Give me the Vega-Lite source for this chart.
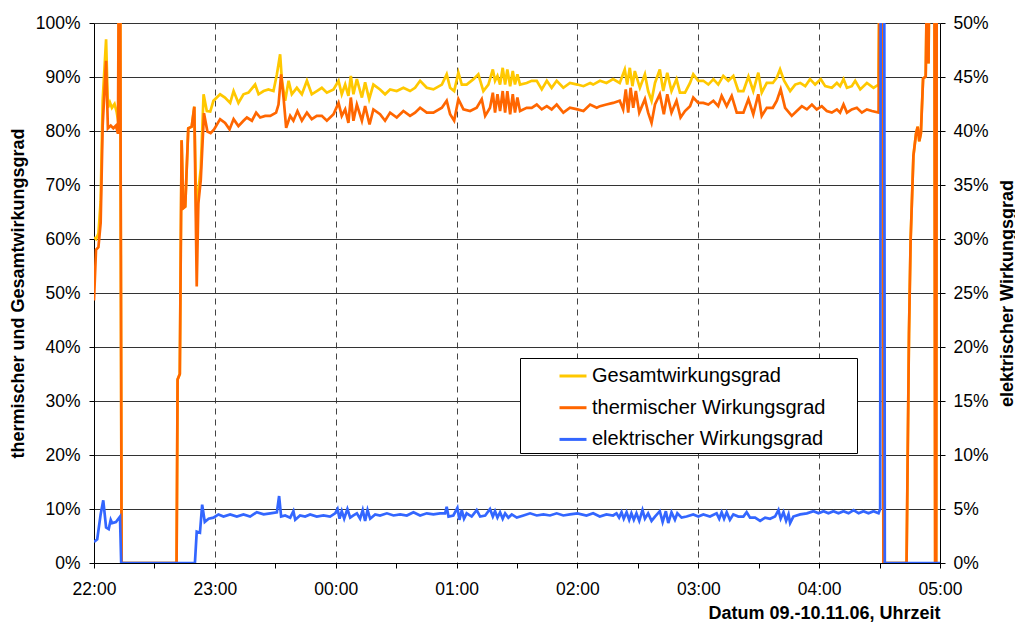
{
  "$schema": "https://vega.github.io/schema/vega-lite/v6.json",
  "width": 846,
  "height": 540,
  "autosize": {"type": "none"},
  "padding": {"left": 94, "top": 23, "right": 75, "bottom": 61},
  "background": "white",
  "config": {
    "font": "Liberation Sans",
    "view": {"stroke": null},
    "axis": {
      "domainColor": "black",
      "tickColor": "black",
      "labelColor": "black",
      "titleColor": "black",
      "labelFont": "Liberation Sans",
      "titleFont": "Liberation Sans",
      "labelFontSize": 17.5,
      "titleFontSize": 18,
      "titleFontWeight": "bold",
      "tickSize": 5
    },
    "legend": {
      "orient": "none",
      "legendX": 426,
      "legendY": 335,
      "direction": "vertical",
      "strokeColor": "black",
      "fillColor": "white",
      "padding": 3,
      "symbolType": "stroke",
      "symbolSize": 729,
      "symbolStrokeWidth": 3,
      "symbolOffset": 35,
      "labelOffset": 4,
      "labelFontSize": 20,
      "labelFont": "Liberation Sans",
      "labelColor": "black",
      "labelLimit": 0,
      "rowPadding": 6.7
    }
  },
  "datasets": {
    "gesamt": [
      {"min": 0, "v": 60.3}, {"min": 1, "v": 60}, {"min": 2.2, "v": 61}, {"min": 3.3, "v": 67}, {"min": 4.3, "v": 85.6},
      {"min": 6, "v": 97}, {"min": 6.9, "v": 84.3}, {"min": 7.9, "v": 85.3}, {"min": 8.9, "v": 84.3}, {"min": 10.2, "v": 85},
      {"min": 11.2, "v": 83.6}, {"min": 12.2, "v": 81.5}, {"min": 12.5, "v": 125}, {"min": 12.9, "v": 125}, {"min": 13.7, "v": 0},
      {"min": 41, "v": 0}, {"min": 41.5, "v": 34}, {"min": 42.6, "v": 35}, {"min": 43.5, "v": 78.3}, {"min": 44.3, "v": 65.7},
      {"min": 45.3, "v": 66}, {"min": 46.8, "v": 80.5}, {"min": 48.5, "v": 80.8}, {"min": 49.8, "v": 84.5}, {"min": 51, "v": 60},
      {"min": 51.8, "v": 69}, {"min": 53, "v": 73}, {"min": 54.4, "v": 86.8}, {"min": 56, "v": 83.7}, {"min": 57.7, "v": 83.6},
      {"min": 59.3, "v": 85.6}, {"min": 62.6, "v": 86.8}, {"min": 65, "v": 86.2}, {"min": 67.6, "v": 85.2}, {"min": 69.3, "v": 87.4},
      {"min": 71.7, "v": 85.2}, {"min": 74.2, "v": 86.8}, {"min": 76.7, "v": 87.1}, {"min": 80, "v": 88.6}, {"min": 81.7, "v": 86.8},
      {"min": 84.2, "v": 87.4}, {"min": 86.6, "v": 87.7}, {"min": 89.1, "v": 87.4}, {"min": 90.8, "v": 90.5}, {"min": 92.4, "v": 94.2},
      {"min": 93.3, "v": 89.3}, {"min": 94.9, "v": 85.6}, {"min": 96.6, "v": 89.3}, {"min": 98.2, "v": 86.8}, {"min": 100.7, "v": 88},
      {"min": 103.2, "v": 86.8}, {"min": 105.7, "v": 89.3}, {"min": 108.1, "v": 86.8}, {"min": 110.6, "v": 87.4}, {"min": 113.1, "v": 88},
      {"min": 115.6, "v": 87.1}, {"min": 118.9, "v": 87.7}, {"min": 121.4, "v": 89.3}, {"min": 123, "v": 86.8}, {"min": 124.7, "v": 88.6},
      {"min": 126.3, "v": 86.5}, {"min": 127.5, "v": 90.2}, {"min": 128.8, "v": 86.8}, {"min": 130.5, "v": 89.6}, {"min": 133, "v": 86.2},
      {"min": 134.6, "v": 89}, {"min": 136.6, "v": 85.9}, {"min": 138.7, "v": 88.6}, {"min": 142, "v": 87.7}, {"min": 144.5, "v": 86.8},
      {"min": 147, "v": 87.7}, {"min": 150.3, "v": 87.4}, {"min": 153.6, "v": 88}, {"min": 156.9, "v": 87.4}, {"min": 159.4, "v": 88},
      {"min": 161.9, "v": 89.3}, {"min": 165.2, "v": 88}, {"min": 168.5, "v": 87.7}, {"min": 172.7, "v": 88.6}, {"min": 175.1, "v": 90.5},
      {"min": 176.8, "v": 88}, {"min": 178.8, "v": 87.4}, {"min": 180.9, "v": 90.8}, {"min": 182.6, "v": 88.6}, {"min": 185, "v": 88.6},
      {"min": 188.4, "v": 89.6}, {"min": 190.8, "v": 90.5}, {"min": 193.3, "v": 87.4}, {"min": 195.8, "v": 88.6}, {"min": 198, "v": 91.4},
      {"min": 199.1, "v": 89.3}, {"min": 200.3, "v": 90.2}, {"min": 201.6, "v": 88.6}, {"min": 202.9, "v": 91.7}, {"min": 204.1, "v": 88.6},
      {"min": 205.2, "v": 91.4}, {"min": 206.6, "v": 88.3}, {"min": 207.9, "v": 91.1}, {"min": 209, "v": 88.6}, {"min": 210.2, "v": 90.5},
      {"min": 211.5, "v": 88.6}, {"min": 214.8, "v": 88.9}, {"min": 217.3, "v": 89.3}, {"min": 219.8, "v": 89.3}, {"min": 222.3, "v": 87.7},
      {"min": 224.8, "v": 89.3}, {"min": 227.2, "v": 88}, {"min": 229.7, "v": 89.3}, {"min": 233, "v": 88}, {"min": 236.3, "v": 88.9},
      {"min": 240, "v": 88.6}, {"min": 243, "v": 88.3}, {"min": 246.3, "v": 88.9}, {"min": 247.8, "v": 88.6}, {"min": 251.2, "v": 89.3},
      {"min": 254.4, "v": 88.9}, {"min": 257.7, "v": 89.6}, {"min": 261, "v": 88.9}, {"min": 263.5, "v": 91.4}, {"min": 264.7, "v": 88.6},
      {"min": 266, "v": 91.7}, {"min": 267.3, "v": 88.3}, {"min": 268.5, "v": 91.1}, {"min": 271, "v": 88}, {"min": 273.5, "v": 90.5},
      {"min": 275.1, "v": 87.4}, {"min": 276.8, "v": 85.6}, {"min": 278.5, "v": 88.9}, {"min": 280.9, "v": 91.4}, {"min": 282.6, "v": 87.4},
      {"min": 284.6, "v": 90.8}, {"min": 286.7, "v": 87.4}, {"min": 289.2, "v": 89.6}, {"min": 290.9, "v": 87.1}, {"min": 293.4, "v": 87.1},
      {"min": 295.9, "v": 88.9}, {"min": 297.5, "v": 90.5}, {"min": 300, "v": 89.3}, {"min": 302.5, "v": 89.3}, {"min": 305, "v": 88.6},
      {"min": 307.5, "v": 89.6}, {"min": 309.9, "v": 88.6}, {"min": 312.4, "v": 90.2}, {"min": 314.9, "v": 89.3}, {"min": 317.4, "v": 90.2},
      {"min": 319.9, "v": 87.4}, {"min": 322.4, "v": 87.4}, {"min": 324.9, "v": 90.1}, {"min": 327.3, "v": 87.4}, {"min": 329.8, "v": 90.8},
      {"min": 331.5, "v": 87.1}, {"min": 334, "v": 88.9}, {"min": 337, "v": 88.9}, {"min": 339, "v": 89.9}, {"min": 340.6, "v": 91.4},
      {"min": 342.6, "v": 89.3}, {"min": 345.6, "v": 87.4}, {"min": 348.1, "v": 88.6}, {"min": 350.6, "v": 88.9}, {"min": 353.1, "v": 88.3},
      {"min": 355.5, "v": 89.6}, {"min": 358, "v": 88.6}, {"min": 360.8, "v": 89.6}, {"min": 363, "v": 88.3}, {"min": 366.3, "v": 88},
      {"min": 368.8, "v": 88.9}, {"min": 370.4, "v": 88.3}, {"min": 372.1, "v": 89.6}, {"min": 373.8, "v": 88}, {"min": 376.2, "v": 88.3},
      {"min": 377.9, "v": 89.3}, {"min": 380.4, "v": 87.7}, {"min": 383.7, "v": 88.9}, {"min": 387, "v": 88}, {"min": 389.5, "v": 88.6},
      {"min": 390.2, "v": 125}, {"min": 391.4, "v": 125}, {"min": 391.9, "v": 0}, {"min": 403.4, "v": 0}, {"min": 404.6, "v": 42.5},
      {"min": 405.4, "v": 59.6}, {"min": 406.8, "v": 75.4}, {"min": 408.1, "v": 79.5}, {"min": 408.9, "v": 80.8}, {"min": 409.7, "v": 78.1},
      {"min": 410.5, "v": 79.5}, {"min": 411.6, "v": 89.7}, {"min": 412.9, "v": 90.1}, {"min": 413.6, "v": 110}, {"min": 414.3, "v": 92.5},
      {"min": 415, "v": 125}, {"min": 417.2, "v": 125}, {"min": 417.6, "v": 0}, {"min": 418.1, "v": 0}, {"min": 418.4, "v": 125},
      {"min": 420, "v": 125}
    ],
    "therm": [
      {"min": 0, "v": 48.6}, {"min": 1, "v": 58}, {"min": 2.2, "v": 58.5}, {"min": 3.3, "v": 63}, {"min": 4.3, "v": 81},
      {"min": 6, "v": 93}, {"min": 6.9, "v": 80.5}, {"min": 8.3, "v": 81}, {"min": 9.6, "v": 80.5}, {"min": 10.9, "v": 81},
      {"min": 11.9, "v": 79.5}, {"min": 12.5, "v": 125}, {"min": 12.9, "v": 125}, {"min": 13.7, "v": 0}, {"min": 41, "v": 0},
      {"min": 41.5, "v": 34}, {"min": 42.6, "v": 35}, {"min": 43.5, "v": 78.3}, {"min": 44.3, "v": 65.7}, {"min": 45.3, "v": 66},
      {"min": 46.8, "v": 80.5}, {"min": 48.5, "v": 80.8}, {"min": 49.8, "v": 84.5}, {"min": 51, "v": 51.2}, {"min": 51.8, "v": 66.6},
      {"min": 53, "v": 70.9}, {"min": 54.6, "v": 83.3}, {"min": 56.3, "v": 79.9}, {"min": 57.9, "v": 79.6}, {"min": 59.6, "v": 80.3},
      {"min": 62.6, "v": 82.2}, {"min": 65.1, "v": 81.5}, {"min": 67.3, "v": 80.3}, {"min": 69.3, "v": 82.2}, {"min": 71.7, "v": 80.9},
      {"min": 74.2, "v": 81.9}, {"min": 75.9, "v": 82.5}, {"min": 78.4, "v": 81.9}, {"min": 80.5, "v": 83.4}, {"min": 82.5, "v": 82.5},
      {"min": 85, "v": 82.8}, {"min": 87.5, "v": 82.8}, {"min": 90.4, "v": 83.4}, {"min": 91.6, "v": 84.9}, {"min": 92.9, "v": 90.5},
      {"min": 94.1, "v": 86.2}, {"min": 95.4, "v": 80.6}, {"min": 97.4, "v": 82.8}, {"min": 99, "v": 81.9}, {"min": 101, "v": 83.7},
      {"min": 103.2, "v": 81.9}, {"min": 105.7, "v": 83.4}, {"min": 108.1, "v": 82.2}, {"min": 110.6, "v": 82.8}, {"min": 113.1, "v": 82.8},
      {"min": 115.6, "v": 81.9}, {"min": 118.9, "v": 83.1}, {"min": 121.4, "v": 85.2}, {"min": 123, "v": 82.8}, {"min": 124.7, "v": 84},
      {"min": 126.3, "v": 81.5}, {"min": 127.5, "v": 86.2}, {"min": 128.8, "v": 81.9}, {"min": 130.5, "v": 84.9}, {"min": 133, "v": 81.9},
      {"min": 134.6, "v": 84.6}, {"min": 136.8, "v": 81.2}, {"min": 138.7, "v": 84}, {"min": 142, "v": 83.1}, {"min": 144.5, "v": 81.9},
      {"min": 147, "v": 83.4}, {"min": 150.3, "v": 82.5}, {"min": 153.6, "v": 83.7}, {"min": 156.9, "v": 82.8}, {"min": 159.4, "v": 83.4},
      {"min": 161.9, "v": 84.3}, {"min": 165.2, "v": 83.4}, {"min": 168.5, "v": 83.4}, {"min": 172.7, "v": 84.3}, {"min": 175.1, "v": 85.6},
      {"min": 176.8, "v": 83.1}, {"min": 178.8, "v": 81.9}, {"min": 180.9, "v": 85.9}, {"min": 183.4, "v": 84}, {"min": 186.7, "v": 83.7},
      {"min": 190, "v": 84.3}, {"min": 192.5, "v": 85.9}, {"min": 194.2, "v": 82.8}, {"min": 196.6, "v": 84.3}, {"min": 198, "v": 87.1},
      {"min": 199.1, "v": 83.4}, {"min": 200.3, "v": 86.8}, {"min": 201.6, "v": 83.7}, {"min": 202.9, "v": 87.4}, {"min": 204.1, "v": 83.4},
      {"min": 205.2, "v": 87.4}, {"min": 206.6, "v": 83.1}, {"min": 207.9, "v": 86.8}, {"min": 209, "v": 83.4}, {"min": 210.2, "v": 86.2},
      {"min": 211.5, "v": 83.7}, {"min": 214.8, "v": 84.3}, {"min": 217.3, "v": 84.3}, {"min": 219.8, "v": 84.9}, {"min": 222.3, "v": 84},
      {"min": 224.8, "v": 84.6}, {"min": 227.2, "v": 84}, {"min": 229.7, "v": 84.9}, {"min": 233, "v": 83.4}, {"min": 236.3, "v": 84.3},
      {"min": 240, "v": 84}, {"min": 243, "v": 83.7}, {"min": 246.3, "v": 84.9}, {"min": 249.6, "v": 84.3}, {"min": 251.2, "v": 84.6},
      {"min": 254.4, "v": 84.9}, {"min": 257.7, "v": 85.2}, {"min": 261, "v": 85.6}, {"min": 262.7, "v": 84}, {"min": 264, "v": 87.7},
      {"min": 265.2, "v": 83.4}, {"min": 266.4, "v": 88}, {"min": 267.7, "v": 84.3}, {"min": 269, "v": 87.4}, {"min": 270.7, "v": 83.4},
      {"min": 273.5, "v": 85.9}, {"min": 275.1, "v": 83.4}, {"min": 276.8, "v": 81.5}, {"min": 278.5, "v": 84.9}, {"min": 280.9, "v": 86.8},
      {"min": 282.9, "v": 83.1}, {"min": 284.6, "v": 86.8}, {"min": 286.7, "v": 83.4}, {"min": 289.2, "v": 85.6}, {"min": 291.2, "v": 82.5},
      {"min": 293.4, "v": 83.7}, {"min": 295.9, "v": 84.6}, {"min": 297.5, "v": 86.2}, {"min": 300, "v": 85.2}, {"min": 302.5, "v": 85.2},
      {"min": 305, "v": 84.9}, {"min": 307.5, "v": 85.6}, {"min": 309.9, "v": 84.6}, {"min": 311.6, "v": 86.5}, {"min": 314.1, "v": 84.6},
      {"min": 316.6, "v": 86.5}, {"min": 319.1, "v": 83.4}, {"min": 322.4, "v": 83.4}, {"min": 324.9, "v": 85.9}, {"min": 327.3, "v": 83.1},
      {"min": 329.8, "v": 86.8}, {"min": 331.5, "v": 82.8}, {"min": 334, "v": 84.3}, {"min": 337, "v": 84.3}, {"min": 339, "v": 85.6},
      {"min": 340.9, "v": 87.7}, {"min": 343.1, "v": 84.3}, {"min": 346.4, "v": 82.8}, {"min": 348.9, "v": 83.7}, {"min": 351.4, "v": 84.6},
      {"min": 353.9, "v": 84}, {"min": 356.4, "v": 84.9}, {"min": 358.8, "v": 84}, {"min": 361.3, "v": 84.6}, {"min": 363.8, "v": 83.7},
      {"min": 366.3, "v": 83.4}, {"min": 368.8, "v": 84}, {"min": 370.4, "v": 83.4}, {"min": 372.1, "v": 84.9}, {"min": 373.8, "v": 83.4},
      {"min": 376.2, "v": 84}, {"min": 378.7, "v": 84.3}, {"min": 381.2, "v": 83.4}, {"min": 383.7, "v": 84}, {"min": 386.2, "v": 83.7},
      {"min": 389.5, "v": 83.4}, {"min": 390.2, "v": 125}, {"min": 391.4, "v": 125}, {"min": 391.9, "v": 0}, {"min": 403.4, "v": 0},
      {"min": 404.6, "v": 42.5}, {"min": 405.4, "v": 59.6}, {"min": 406.8, "v": 75.4}, {"min": 408.1, "v": 79.5}, {"min": 408.9, "v": 80.8},
      {"min": 409.7, "v": 78.1}, {"min": 410.5, "v": 79.5}, {"min": 411.6, "v": 89.7}, {"min": 412.9, "v": 90.1}, {"min": 413.6, "v": 110},
      {"min": 414.3, "v": 92.5}, {"min": 415, "v": 125}, {"min": 417.2, "v": 125}, {"min": 417.6, "v": 0}, {"min": 418.1, "v": 0},
      {"min": 418.4, "v": 125}, {"min": 420, "v": 125}
    ],
    "elek": [
      {"min": 0, "v": 1.95}, {"min": 1.6, "v": 2.2}, {"min": 3.3, "v": 4.5}, {"min": 4.6, "v": 5.8}, {"min": 6, "v": 3.3},
      {"min": 7.3, "v": 3.15}, {"min": 8.3, "v": 4}, {"min": 9, "v": 3.7}, {"min": 10.9, "v": 3.8}, {"min": 12.9, "v": 4.3},
      {"min": 13.5, "v": 0}, {"min": 50.1, "v": 0}, {"min": 51, "v": 2.9}, {"min": 52.6, "v": 2.8}, {"min": 53.7, "v": 5.4},
      {"min": 55, "v": 3.8}, {"min": 56.9, "v": 4.1}, {"min": 59.3, "v": 4.2}, {"min": 61.8, "v": 4.5}, {"min": 64.3, "v": 4.3},
      {"min": 67.6, "v": 4.5}, {"min": 70.9, "v": 4.3}, {"min": 74.2, "v": 4.5}, {"min": 77.5, "v": 4.3}, {"min": 80.8, "v": 4.7},
      {"min": 84.2, "v": 4.5}, {"min": 87.5, "v": 4.6}, {"min": 90.8, "v": 4.7}, {"min": 91.9, "v": 6.2}, {"min": 92.9, "v": 4.3},
      {"min": 94.9, "v": 4.4}, {"min": 97.4, "v": 4.2}, {"min": 99, "v": 4.8}, {"min": 99.9, "v": 4}, {"min": 102.3, "v": 4.4},
      {"min": 104.8, "v": 4.3}, {"min": 107.3, "v": 4.5}, {"min": 110.6, "v": 4.3}, {"min": 113.9, "v": 4.4}, {"min": 117.2, "v": 4.3},
      {"min": 119.7, "v": 4.6}, {"min": 120.9, "v": 5}, {"min": 121.9, "v": 4.1}, {"min": 123, "v": 4.8}, {"min": 124.2, "v": 4.1},
      {"min": 125.8, "v": 5}, {"min": 127.2, "v": 4.2}, {"min": 128.8, "v": 4.4}, {"min": 130.5, "v": 4.6}, {"min": 132.1, "v": 4.1},
      {"min": 133.4, "v": 4.9}, {"min": 134.6, "v": 3.9}, {"min": 135.8, "v": 4.9}, {"min": 137.1, "v": 4.1}, {"min": 139.6, "v": 4.5},
      {"min": 142, "v": 4.4}, {"min": 145.4, "v": 4.6}, {"min": 148.7, "v": 4.4}, {"min": 152, "v": 4.5}, {"min": 155.3, "v": 4.4},
      {"min": 158.6, "v": 4.7}, {"min": 161.9, "v": 4.4}, {"min": 165.2, "v": 4.6}, {"min": 168.5, "v": 4.5}, {"min": 171.8, "v": 4.6},
      {"min": 174.3, "v": 4.6}, {"min": 175.1, "v": 5.2}, {"min": 176, "v": 4.3}, {"min": 178.4, "v": 4.4}, {"min": 180.4, "v": 5.1},
      {"min": 181.4, "v": 4}, {"min": 182.6, "v": 4.9}, {"min": 183.7, "v": 4.1}, {"min": 185, "v": 4.6}, {"min": 187.5, "v": 4.3},
      {"min": 190, "v": 4.9}, {"min": 191.7, "v": 4.3}, {"min": 194.2, "v": 4.4}, {"min": 196.6, "v": 5}, {"min": 198, "v": 4.3},
      {"min": 199.1, "v": 4.8}, {"min": 200.3, "v": 4.2}, {"min": 201.6, "v": 4.7}, {"min": 202.9, "v": 4.1}, {"min": 204.1, "v": 4.6},
      {"min": 205.7, "v": 4.2}, {"min": 207.4, "v": 4.5}, {"min": 209.9, "v": 4.2}, {"min": 213.2, "v": 4.4}, {"min": 216.5, "v": 4.6},
      {"min": 219.8, "v": 4.4}, {"min": 223.1, "v": 4.5}, {"min": 226.4, "v": 4.4}, {"min": 229.7, "v": 4.6}, {"min": 233, "v": 4.4},
      {"min": 236.3, "v": 4.5}, {"min": 240, "v": 4.6}, {"min": 244.5, "v": 4.4}, {"min": 247.8, "v": 4.6}, {"min": 251.1, "v": 4.3},
      {"min": 254.4, "v": 4.5}, {"min": 257.7, "v": 4.4}, {"min": 259.4, "v": 4.6}, {"min": 260.7, "v": 4.2}, {"min": 261.9, "v": 4.7},
      {"min": 263, "v": 4.1}, {"min": 264.4, "v": 4.7}, {"min": 265.7, "v": 4}, {"min": 266.8, "v": 4.6}, {"min": 268, "v": 4},
      {"min": 269.3, "v": 4.6}, {"min": 270.7, "v": 3.9}, {"min": 272.3, "v": 4.9}, {"min": 273.5, "v": 4.1}, {"min": 275.1, "v": 4.6},
      {"min": 276.8, "v": 3.9}, {"min": 278.5, "v": 4.3}, {"min": 280.9, "v": 4.8}, {"min": 282.3, "v": 3.8}, {"min": 283.9, "v": 4.8},
      {"min": 285.1, "v": 3.7}, {"min": 286.7, "v": 4.7}, {"min": 288.4, "v": 4}, {"min": 289.6, "v": 4.6}, {"min": 291.7, "v": 4.2},
      {"min": 294.2, "v": 4.3}, {"min": 297.5, "v": 4.5}, {"min": 300, "v": 4.3}, {"min": 302.5, "v": 4.5}, {"min": 305.8, "v": 4.3},
      {"min": 309.1, "v": 4.6}, {"min": 310.4, "v": 4.1}, {"min": 311.6, "v": 4.7}, {"min": 312.8, "v": 4.1}, {"min": 314.1, "v": 4.7},
      {"min": 315.7, "v": 4}, {"min": 317.4, "v": 4.5}, {"min": 319.9, "v": 4.3}, {"min": 322.4, "v": 4.3}, {"min": 324, "v": 4.7},
      {"min": 325.7, "v": 4.2}, {"min": 328.2, "v": 4.2}, {"min": 330.7, "v": 3.9}, {"min": 333.2, "v": 4.2}, {"min": 335.6, "v": 4.1},
      {"min": 338.1, "v": 4.3}, {"min": 339.8, "v": 4.9}, {"min": 340.9, "v": 4.1}, {"min": 342.3, "v": 4.7}, {"min": 343.6, "v": 3.9},
      {"min": 344.8, "v": 4.5}, {"min": 345.6, "v": 3.7}, {"min": 347.2, "v": 4.3}, {"min": 350.6, "v": 4.5}, {"min": 353.9, "v": 4.6},
      {"min": 357.2, "v": 4.8}, {"min": 359.7, "v": 4.6}, {"min": 362.2, "v": 4.8}, {"min": 364.6, "v": 4.6}, {"min": 367.1, "v": 4.8},
      {"min": 369.6, "v": 4.6}, {"min": 372.1, "v": 4.8}, {"min": 374.6, "v": 4.6}, {"min": 377.1, "v": 4.9}, {"min": 379.6, "v": 4.6},
      {"min": 382, "v": 4.8}, {"min": 384.5, "v": 4.6}, {"min": 387, "v": 4.8}, {"min": 389.5, "v": 4.6}, {"min": 390.3, "v": 5},
      {"min": 390.6, "v": 60}, {"min": 392.3, "v": 60}, {"min": 392.6, "v": 0}, {"min": 420, "v": 0}
    ]
  },
  "encoding": {
    "x": {
      "field": "min",
      "type": "quantitative",
      "scale": {"domain": [0, 420], "nice": false, "zero": false},
      "axis": {
        "values": [0, 30, 60, 90, 120, 150, 180, 210, 240, 270, 300, 330, 360, 390, 420],
        "labelExpr": "datum.value % 60 == 0 ? ((((22 + datum.value / 60) % 24) < 10 ? '0' : '') + ((22 + datum.value / 60) % 24) + ':00') : ''",
        "labelPadding": 12,
        "labelFlush": false,
        "labelOverlap": false,
        "grid": true,
        "gridColor": "#444444",
        "gridDash": [6, 5],
        "gridWidth": 1,
        "gridOpacity": {"condition": {"test": "datum.value % 60 == 0 && datum.value > 0 && datum.value < 420", "value": 1}, "value": 0},
        "title": "Datum 09.-10.11.06, Uhrzeit",
        "titleX": 846,
        "titleY": 55,
        "titleAlign": "right",
        "titleBaseline": "alphabetic"
      }
    }
  },
  "layer": [
    {
      "encoding": {
        "y": {
          "field": "v",
          "type": "quantitative",
          "scale": {"domain": [0, 100], "nice": false, "zero": true},
          "axis": {
            "values": [0, 10, 20, 30, 40, 50, 60, 70, 80, 90, 100],
            "labelExpr": "datum.value + '%'",
            "labelPadding": 9,
            "grid": true,
            "gridColor": "#333333",
            "gridWidth": 1,
            "title": "thermischer und Gesamtwirkungsgrad",
            "titleX": -76,
            "titleY": 270,
            "titleAngle": 270,
            "titleAlign": "center",
            "titleBaseline": "middle"
          }
        }
      },
      "layer": [
        {
          "data": {"name": "gesamt"},
          "mark": {"type": "line", "strokeWidth": 2.7, "clip": true},
          "encoding": {
            "color": {
              "datum": "Gesamtwirkungsgrad",
              "type": "nominal",
              "scale": {
                "domain": ["Gesamtwirkungsgrad", "thermischer Wirkungsgrad", "elektrischer Wirkungsgrad"],
                "range": ["#FFC800", "#FF6600", "#3366FF"]
              },
              "legend": {"title": null, "labelExpr": "datum.label + '\u00a0\u00a0\u00a0\u00a0\u00a0\u200b'"}
            }
          }
        },
        {
          "data": {"name": "therm"},
          "mark": {"type": "line", "strokeWidth": 2.7, "clip": true},
          "encoding": {
            "color": {"datum": "thermischer Wirkungsgrad", "type": "nominal"}
          }
        }
      ]
    },
    {
      "data": {"name": "elek"},
      "mark": {"type": "line", "strokeWidth": 2.7, "clip": true},
      "encoding": {
        "y": {
          "field": "v",
          "type": "quantitative",
          "scale": {"domain": [0, 50], "nice": false, "zero": true},
          "axis": {
            "orient": "right",
            "values": [0, 5, 10, 15, 20, 25, 30, 35, 40, 45, 50],
            "labelExpr": "datum.value + '%'",
            "labelPadding": 8,
            "grid": false,
            "title": "elektrischer Wirkungsgrad",
            "titleX": 67,
            "titleY": 270,
            "titleAngle": 270,
            "titleAlign": "center",
            "titleBaseline": "middle"
          }
        },
        "color": {"datum": "elektrischer Wirkungsgrad", "type": "nominal"}
      }
    }
  ],
  "resolve": {"scale": {"y": "independent"}}
}
